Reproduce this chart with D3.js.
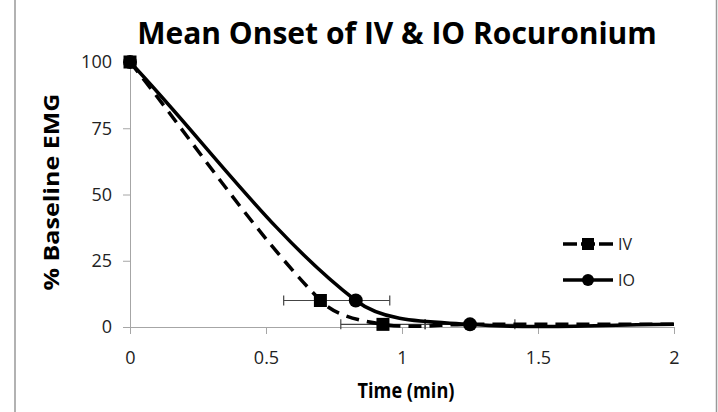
<!DOCTYPE html>
<html><head><meta charset="utf-8">
<script src="https://cdn.jsdelivr.net/npm/d3@7"></script>
<style>body{margin:0;background:#fff}svg{display:block}</style>
</head><body>
<svg id="c" width="718" height="412"></svg>
<script>
const title = "Mean Onset of IV & IO Rocuronium";
const xLabel = "Time (min)";
const yLabel = "% Baseline EMG";
const xTicks = [0, 0.5, 1, 1.5, 2];
const yTicks = [0, 25, 50, 75, 100];
// IV series
const ivTime = [0, 0.7, 0.93, 1.25, 2];
const ivValue = [100, 10, 1, 1, 1];
const ivMarker = [true, true, true, false, false];
const ivErr = [0, 0.135, 0.155, 0, 0];
// IO series
const ioTime = [0, 0.83, 1.25, 2];
const ioValue = [100, 10, 1, 1];
const ioMarker = [true, true, true, false];
const ioErr = [0, 0.125, 0.165, 0];

const FONT = "'Open Sans', sans-serif";
const svg = d3.select("#c");
const x = d3.scaleLinear().domain([0, 2]).range([130, 674]);
const y = d3.scaleLinear().domain([0, 100]).range([327, 62]);

// spreadsheet-style smoothing curve (Bezier, chord-weighted tangents)
function SmoothCurve(context){ this._context = context; }
SmoothCurve.prototype = {
  areaStart(){ this._line = 0; }, areaEnd(){ this._line = NaN; },
  lineStart(){ this._pts = []; },
  point(px, py){ this._pts.push([+px, +py]); },
  lineEnd(){
    const p = this._pts, n = p.length, c = this._context;
    if (!n) return;
    c.moveTo(p[0][0], p[0][1]);
    const dist = (a, b) => Math.hypot(b[0]-a[0], b[1]-a[1]);
    for (let i = 0; i < n - 1; i++) {
      const P0 = p[i-1] || p[i], P1 = p[i], P2 = p[i+1], P3 = p[i+2] || p[i+1];
      const d01 = dist(P0,P1), d12 = dist(P1,P2), d23 = dist(P2,P3);
      const w1 = d12 / (d01 + d12) / 3, w2 = d12 / (d12 + d23) / 3;
      const c1 = [P1[0] + (P2[0]-P0[0]) * w1, P1[1] + (P2[1]-P0[1]) * w1];
      const c2 = [P2[0] - (P3[0]-P1[0]) * w2, P2[1] - (P3[1]-P1[1]) * w2];
      c.bezierCurveTo(c1[0], c1[1], c2[0], c2[1], P2[0], P2[1]);
    }
  }
};
const smooth = ctx => new SmoothCurve(ctx);

// outer border lines
svg.append("line").attr("x1",15).attr("x2",15).attr("y1",0).attr("y2",412).attr("stroke","#999").attr("stroke-width",1.5);
svg.append("line").attr("x1",716.5).attr("x2",716.5).attr("y1",0).attr("y2",412).attr("stroke","#999").attr("stroke-width",1.5);

const axisColor = "#a6a6a6";
const gx = svg.append("g").attr("transform",`translate(0,${y(0)})`)
  .call(d3.axisBottom(x).tickValues(xTicks).tickSize(7).tickSizeOuter(0).tickFormat(d3.format("")));
gx.select(".domain").attr("stroke",axisColor);
gx.selectAll(".tick line").attr("stroke",axisColor);
gx.selectAll(".tick text").style("font-size","18px").style("font-family",FONT).attr("fill","#222").attr("y",31).attr("dy","0.35em");

const gy = svg.append("g").attr("transform",`translate(${x(0)},0)`)
  .call(d3.axisLeft(y).tickValues(yTicks).tickSize(7).tickSizeOuter(0));
gy.select(".domain").attr("stroke",axisColor);
gy.selectAll(".tick line").attr("stroke",axisColor);
gy.selectAll(".tick text").style("font-size","18px").style("font-family",FONT).attr("fill","#222").attr("x",-18);

// error bars
function errBars(t, v, e){
  const g = svg.append("g").attr("stroke","#444").attr("stroke-width",1.2);
  t.forEach((ti,i)=>{
    if(!e[i]) return;
    const yy = y(v[i]);
    g.append("line").attr("x1",x(ti-e[i])).attr("x2",x(ti+e[i])).attr("y1",yy).attr("y2",yy);
    [ti-e[i], ti+e[i]].forEach(xe=>{
      g.append("line").attr("x1",x(xe)).attr("x2",x(xe)).attr("y1",yy-5).attr("y2",yy+5);
    });
  });
}
errBars(ivTime, ivValue, ivErr);
errBars(ioTime, ioValue, ioErr);

const line = d3.line().x(d=>x(d[0])).y(d=>y(d[1])).curve(smooth);
const ivData = ivTime.map((t,i)=>[t, ivValue[i], ivMarker[i]]);
const ioData = ioTime.map((t,i)=>[t, ioValue[i], ioMarker[i]]);

svg.append("path").datum(ivData).attr("d",line).attr("fill","none").attr("stroke","#000")
  .attr("stroke-width",3.5).attr("stroke-dasharray","13,8");
svg.append("path").datum(ioData).attr("d",line).attr("fill","none").attr("stroke","#000")
  .attr("stroke-width",3.5);

svg.selectAll("rect.iv").data(ivData.filter(d=>d[2])).enter().append("rect")
  .attr("x",d=>x(d[0])-6.5).attr("y",d=>y(d[1])-6.5).attr("width",13).attr("height",13).attr("fill","#000");
svg.selectAll("circle.io").data(ioData.filter(d=>d[2])).enter().append("circle")
  .attr("cx",d=>x(d[0])).attr("cy",d=>y(d[1])).attr("r",7).attr("fill","#000");

// legend
const leg = svg.append("g");
leg.append("line").attr("x1",563).attr("x2",613).attr("y1",244).attr("y2",244).attr("stroke","#000").attr("stroke-width",3.5).attr("stroke-dasharray","14,4");
leg.append("rect").attr("x",582).attr("y",238).attr("width",12).attr("height",12).attr("fill","#000");
leg.append("text").attr("x",618).attr("y",244).attr("dy","0.35em").style("font-size","16px").style("font-family",FONT).attr("fill","#222").text("IV");
leg.append("line").attr("x1",563).attr("x2",613).attr("y1",280).attr("y2",280).attr("stroke","#000").attr("stroke-width",3.5);
leg.append("circle").attr("cx",588).attr("cy",280).attr("r",6).attr("fill","#000");
leg.append("text").attr("x",618).attr("y",280).attr("dy","0.35em").style("font-size","16px").style("font-family",FONT).attr("fill","#222").text("IO");

// titles
svg.append("text").attr("x",397).attr("y",44).attr("text-anchor","middle").style("font-size","30px").style("font-weight","700").style("font-family",FONT)
  .attr("fill","#000").text(title);
svg.append("text").attr("x",406).attr("y",398).attr("text-anchor","middle").style("font-size","21px").style("font-weight","700").style("font-family",FONT)
  .attr("textLength",97).attr("lengthAdjust","spacingAndGlyphs").attr("fill","#000").text(xLabel);
svg.append("text").attr("transform","translate(59,192) rotate(-90)").attr("text-anchor","middle").style("font-size","22px").style("font-weight","700").style("font-family",FONT)
  .attr("textLength",197).attr("lengthAdjust","spacingAndGlyphs").attr("fill","#000").text(yLabel);
</script>
</body></html>
